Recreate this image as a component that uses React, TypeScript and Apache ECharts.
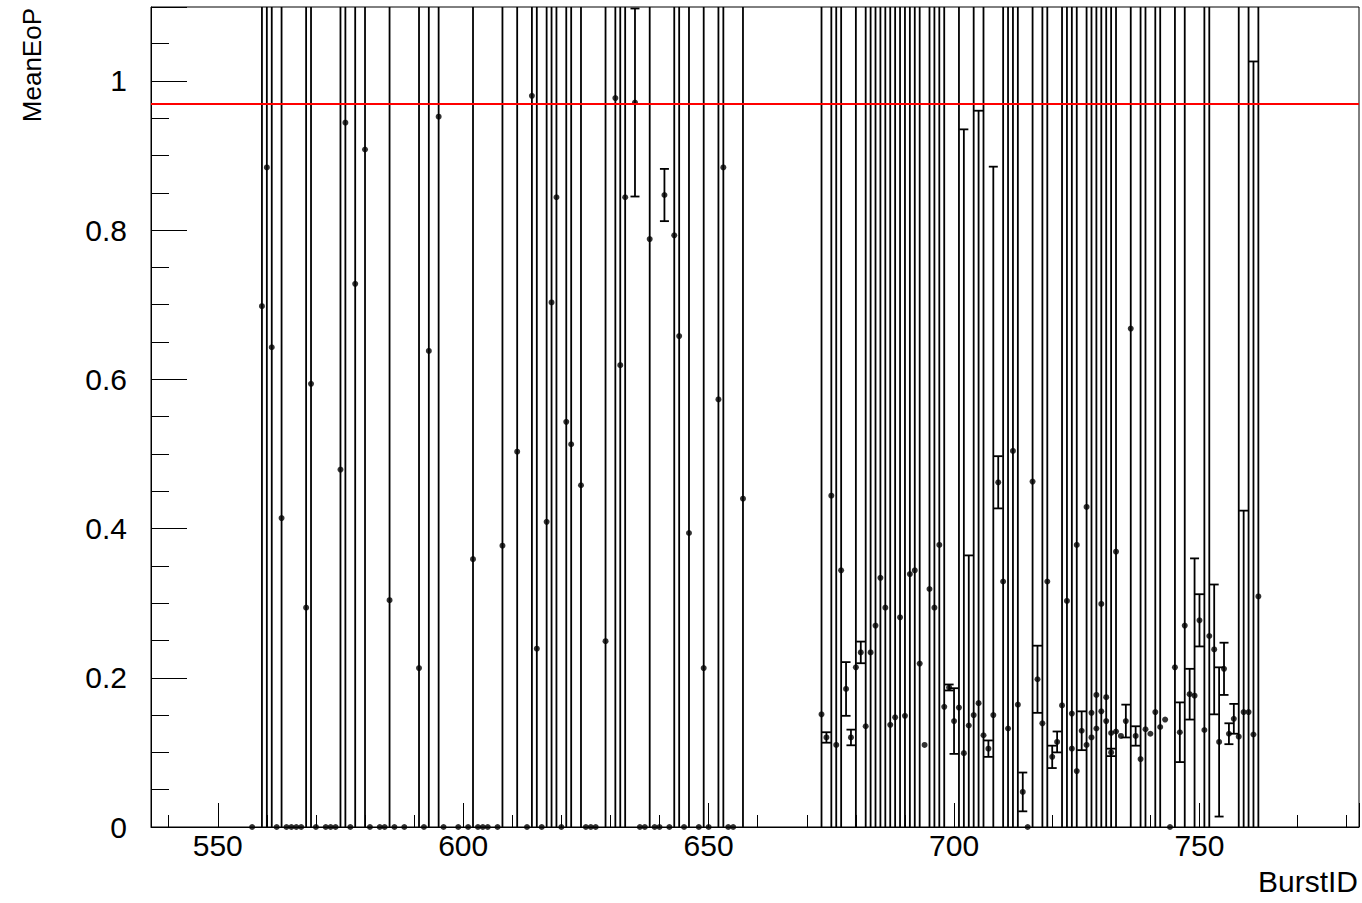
import React, { useEffect, useRef } from "react";
import * as echarts from "echarts";

// BurstID of each measurement
const burstId = [
  557, 559, 560, 561, 562, 563, 564, 565, 566, 567, 568, 569, 570, 572, 573, 574, 575, 576, 577, 578,
  580, 581, 583, 584, 585, 586, 588, 591, 592, 593, 595, 596, 599, 601, 602, 603, 604, 605, 607, 608,
  611, 613, 614, 615, 616, 617, 618, 619, 620, 621, 622, 624, 625, 626, 627, 629, 631, 632, 633, 635,
  636, 637, 638, 639, 640, 641, 642, 643, 644, 645, 646, 648, 649, 650, 652, 653, 654, 655, 657,
  673, 674, 675, 676, 677, 678, 679, 680, 681, 682, 683, 684, 685, 686, 687, 688, 689, 690, 691, 692,
  693, 694, 695, 696, 697, 698, 699, 700, 701, 702, 703, 704, 705, 706, 707, 708, 709, 710, 711, 712,
  713, 714, 715, 716, 717, 718, 719, 720, 721, 722, 723, 724, 724, 725, 725, 726, 727, 727, 728, 728,
  729, 729, 730, 730, 731, 731, 732, 732, 733, 733, 734, 735, 736, 737, 738, 739, 740, 741, 742, 743,
  744, 745, 746, 747, 748, 749, 750, 751, 752, 753, 754, 755, 756, 757, 758, 759, 760, 761, 762,
];

// MeanEoP value of each measurement
const meanEoP = [
  0, 0.698, 0.884, 0.643, 0, 0.414, 0, 0, 0, 0, 0.294, 0.594, 0, 0, 0, 0, 0.479, 0.944, 0, 0.728,
  0.908, 0, 0, 0, 0.304, 0, 0, 0.213, 0, 0.638, 0.952, 0, 0, 0, 0.359, 0, 0, 0, 0, 0.377,
  0.503, 0, 0.98, 0.239, 0, 0.409, 0.703, 0.844, 0, 0.543, 0.513, 0.458, 0, 0, 0, 0.249, 0.977, 0.619, 0.844, 0.971,
  0, 0, 0.788, 0, 0, 0.847, 0, 0.793, 0.658, 0, 0.394, 0, 0.213, 0, 0.573, 0.884, 0, 0, 0.44,
  0.151, 0.12, 0.444, 0.11, 0.344, 0.185, 0.12, 0.214, 0.234, 0.135, 0.234, 0.27, 0.334, 0.294, 0.137, 0.147, 0.281, 0.149, 0.339, 0.344,
  0.219, 0.11, 0.319, 0.294, 0.378, 0.161, 0.187, 0.142, 0.16, 0.099, 0.136, 0.15, 0.166, 0.123, 0.105, 0.15, 0.462, 0.329, 0.132, 0.504,
  0.164, 0.047, 0, 0.463, 0.198, 0.139, 0.329, 0.094, 0.114, 0.163, 0.303, 0.152, 0.105, 0.378, 0.075, 0.129, 0.429, 0.11, 0.153, 0.12,
  0.177, 0.132, 0.299, 0.155, 0.174, 0.142, 0.126, 0.1, 0.369, 0.128, 0.122, 0.142, 0.668, 0.122, 0.091, 0.131, 0.125, 0.154, 0.134, 0.144,
  0, 0.214, 0.127, 0.27, 0.178, 0.176, 0.277, 0.13, 0.256, 0.238, 0.114, 0.212, 0.125, 0.145, 0.121, 0.154, 0.154, 0.124, 0.309,
];

// Error on MeanEoP (2 = larger than the whole axis range)
const errEoP = [
  0, 2, 2, 2, 0, 2, 0, 0, 0, 0, 2, 2, 0, 0, 0, 0, 2, 2, 0, 2,
  2, 0, 0, 0, 2, 0, 0, 2, 0, 2, 2, 0, 0, 0, 2, 0, 0, 0, 0, 2,
  2, 0, 2, 2, 0, 2, 2, 2, 0, 2, 2, 2, 0, 0, 0, 2, 2, 2, 2, 0.126,
  0, 0, 2, 0, 0, 0.035, 0, 2, 2, 0, 2, 0, 2, 0, 2, 2, 0, 0, 2,
  2, 0.007, 2, 2, 2, 0.036, 0.0105, 2, 0.0145, 2, 2, 2, 2, 2, 2, 2, 2, 2, 2, 2,
  2, 0, 2, 2, 2, 2, 0.004, 0.044, 2, 0.836, 0.228, 2, 0.794, 2, 0.011, 0.735, 0.035, 2, 2, 2,
  2, 0.026, 0, 2, 0.045, 2, 2, 0.015, 0.014, 2, 2, 2, 0, 2, 0, 0.026, 2, 0, 2, 0,
  2, 0, 2, 0, 2, 0, 2, 0.005, 2, 0, 0, 0.022, 2, 0.013, 2, 2, 0, 2, 2, 0,
  0, 2, 0.04, 2, 0.034, 0.184, 0.035, 2, 2, 0.087, 0.1, 0.035, 0.014, 0.02, 2, 0.27, 2, 0.902, 2,
];

const referenceEoP = 0.975;
const xRange = [536.4, 782.5];
const yRange = [0, 1.099];
const xTitle = "BurstID";
const yTitle = "MeanEoP";

const FONT = "'Liberation Sans', Arial, Helvetica, sans-serif";

export default function App() {
  const ref = useRef<HTMLDivElement>(null);
  useEffect(() => {
    if (!ref.current) return;
    const chart = echarts.init(ref.current, null, { renderer: "svg" });
    const data = burstId.map((b, i) => [b, meanEoP[i], errEoP[i]]);
    const isMajorX = (v: number) => Math.abs(v / 50 - Math.round(v / 50)) < 1e-6;
    const isMajorY = (v: number) => Math.abs(v * 5 - Math.round(v * 5)) < 1e-6;
    chart.setOption({
      animation: false,
      backgroundColor: "#ffffff",
      grid: {
        left: 151,
        right: 2,
        top: 7,
        bottom: 76,
        show: true,
        borderColor: "#000",
        borderWidth: 1,
        backgroundColor: "transparent",
      },
      xAxis: {
        type: "value",
        min: xRange[0],
        max: xRange[1],
        axisLine: { show: true, lineStyle: { color: "#000", width: 1 } },
        axisTick: { show: true, inside: true, length: 24, lineStyle: { color: "#000", width: 1 } },
        minorTick: { show: true, splitNumber: 5, length: 12, lineStyle: { color: "#000", width: 1 } },
        splitLine: { show: false },
        axisLabel: {
          color: "#000",
          fontFamily: FONT,
          fontSize: 30,
          margin: 3,
          formatter: (v: number) => (isMajorX(v) ? String(Math.round(v)) : ""),
        },
      },
      yAxis: {
        type: "value",
        min: yRange[0],
        max: yRange[1],
        interval: 0.2,
        axisLine: { show: true, lineStyle: { color: "#000", width: 1 } },
        axisTick: { show: true, inside: true, length: 36, lineStyle: { color: "#000", width: 1 } },
        minorTick: { show: true, splitNumber: 4, length: 18, lineStyle: { color: "#000", width: 1 } },
        splitLine: { show: false },
        axisLabel: {
          color: "#000",
          fontFamily: FONT,
          fontSize: 30,
          margin: 24,
          formatter: (v: number) => (isMajorY(v) && v <= 1.0001 ? String(Math.round(v * 10) / 10) : ""),
        },
      },
      graphic: [
        {
          type: "text",
          right: 4,
          top: 866,
          style: { text: xTitle, font: `30px ${FONT}`, fill: "#000" },
        },
        {
          type: "text",
          x: 32,
          y: 8,
          rotation: Math.PI / 2,
          style: { text: yTitle, font: `26px ${FONT}`, fill: "#000", align: "right", verticalAlign: "middle" },
        },
      ],
      series: [
        {
          type: "custom",
          data,
          clip: false,
          silent: true,
          encode: { x: 0, y: 1 },
          renderItem: (params: any, api: any) => {
            const x = api.value(0);
            const y = api.value(1);
            const e = api.value(2);
            if (!(e > 0)) return { type: "group", children: [] };
            const cs = params.coordSys;
            const p = api.coord([x, y]);
            const hi = api.coord([x, y + e])[1];
            const lo = api.coord([x, y - e])[1];
            const top = Math.max(hi, cs.y);
            const bottom = Math.min(lo, cs.y + cs.height);
            const style = { stroke: "#000", lineWidth: 1.8 };
            const cap = 4.5;
            const children: any[] = [
              { type: "line", shape: { x1: p[0], y1: top, x2: p[0], y2: bottom }, style },
            ];
            if (hi >= cs.y) children.push({ type: "line", shape: { x1: p[0] - cap, y1: hi, x2: p[0] + cap, y2: hi }, style });
            if (lo <= cs.y + cs.height) children.push({ type: "line", shape: { x1: p[0] - cap, y1: lo, x2: p[0] + cap, y2: lo }, style });
            return { type: "group", children };
          },
          z: 2,
        },
        {
          type: "scatter",
          data: data.map((d) => [d[0], d[1]]),
          symbol: "circle",
          symbolSize: 6,
          itemStyle: { color: "#000" },
          silent: true,
          z: 3,
          markLine: {
            silent: true,
            symbol: ["none", "none"],
            label: { show: false },
            lineStyle: { color: "#ff0000", width: 2, type: "solid" },
            data: [{ yAxis: referenceEoP }],
          },
        },
      ],
    });
    return () => chart.dispose();
  }, []);
  return (
    <div
      ref={ref}
      style={{ position: "fixed", left: 0, top: 0, width: 1362, height: 903, background: "#fff" }}
    />
  );
}
